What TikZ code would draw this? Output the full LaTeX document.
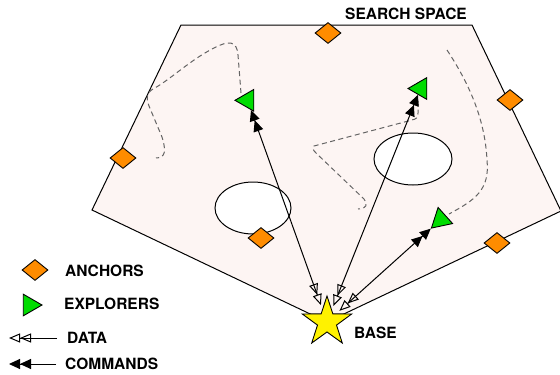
\documentclass[tikz,border=0pt]{standalone}
\usepackage{fontspec}
\setmainfont{TeX Gyre Heros}
\usetikzlibrary{shapes.geometric,arrows.meta}
\definecolor{regionfill}{RGB}{253,245,243}
\definecolor{anchorcol}{RGB}{255,140,0}
\definecolor{explcol}{RGB}{0,220,0}
\definecolor{dashcol}{RGB}{100,100,100}
\tikzset{
  anchornode/.style={diamond, draw=black, fill=anchorcol, minimum width=26pt, minimum height=21pt, inner sep=0pt, line width=0.9pt},
  explorer/.style={regular polygon, regular polygon sides=3, draw=black, fill=explcol, minimum size=25pt, inner sep=0pt, line width=0.9pt},
  lbl/.style={font=\bfseries\fontsize{15.5}{18}\selectfont, inner sep=0pt, anchor=base west},
  track/.style={draw=dashcol, dash pattern=on 5pt off 3.5pt, line width=1pt},
  datacmd/.style={line width=1pt, {Triangle[open,length=11pt,width=9pt]Triangle[open,length=11pt,width=9pt]}-{Triangle[length=11pt,width=10pt]Triangle[length=11pt,width=10pt]}},
  dataarrow/.style={line width=1pt, -{Triangle[open,length=11pt,width=9pt]Triangle[open,length=11pt,width=9pt]}},
  cmdarrow/.style={line width=1pt, -{Triangle[length=11pt,width=10pt]Triangle[length=11pt,width=10pt]}},
  wall/.style={draw=black, line width=1pt}
}
\begin{document}
\begin{tikzpicture}[x=1pt,y=-1pt]
\useasboundingbox (0,0) rectangle (560,375);
% search space
\coordinate (bc) at (327,322);
\draw[wall, fill=regionfill] (181,25) -- (472,25) -- (561,211) -- (bc) -- (92,210) -- cycle;
% obstacles
\draw[wall, fill=white] (253,208) ellipse [x radius=38, y radius=26];
\draw[wall, fill=white] (413,159) ellipse [x radius=39, y radius=26];
% tracks
\draw[track] (241,93) -- (238,55) .. controls (237,41) and (229,40) .. (214,48)
  .. controls (190,60) and (170,80) .. (153,89)
  .. controls (146,93) and (146,100) .. (149,106)
  -- (162,137) .. controls (166,150) and (166,158) .. (156,158);
\draw[track] (418,101) -- (418,113) .. controls (418,118) and (416,119) .. (412,120)
  -- (314,146) .. controls (312,148) and (313,150) .. (316,153)
  -- (364,199) .. controls (368,204) and (367,209) .. (358,209);
\draw[track] (447,50) .. controls (470,85) and (485,120) .. (487,160)
  .. controls (490,190) and (475,200) .. (449,214);
% anchors
\node[anchornode] (a1) at (328,33) {};
\node[anchornode] (a2) at (510,100) {};
\node[anchornode] (a3) at (123,158) {};
\node[anchornode] (a4) at (261,238) {};
\node[anchornode] (a5) at (497,243) {};
% explorers
\node[explorer, shape border rotate=90] (e1) at (247.5,100.3) {};
\node[explorer, shape border rotate=90] (e2) at (420.5,88.5) {};
\node[explorer, shape border rotate=12] (e3) at (440.7,219.7) {};
% base
\node[star, star points=5, star point ratio=2.6, minimum size=52pt, inner sep=0pt, draw=black, fill=yellow, line width=0.9pt] (base) at (bc) {};
\node[lbl] (basel) at (354,338.5) {BASE};
% links
\draw[datacmd, shorten <=4pt] (base) -- (e1);
\draw[datacmd, shorten <=4pt] (base) -- (e2);
\draw[datacmd, shorten <=4pt] (base) -- (e3);
% title
\node[lbl] (title) at (345,19) {SEARCH SPACE};
% legend
\node[anchornode] (la) at (35,270) {};
\node[lbl] (lat) at (65,276.7) {ANCHORS};
\node[explorer, shape border rotate=-90] (le) at (29.5,305) {};
\node[lbl] (let) at (64,309.3) {EXPLORERS};
\coordinate (d0) at (57,338);
\coordinate (d1) at (9,338);
\draw[dataarrow] (d0) -- (d1);
\node[lbl] (ldt) at (67,343.3) {DATA};
\coordinate (c0) at (56,364);
\coordinate (c1) at (9,364);
\draw[cmdarrow] (c0) -- (c1);
\node[lbl] (lct) at (65,369.3) {COMMANDS};
\end{tikzpicture}
\end{document}
